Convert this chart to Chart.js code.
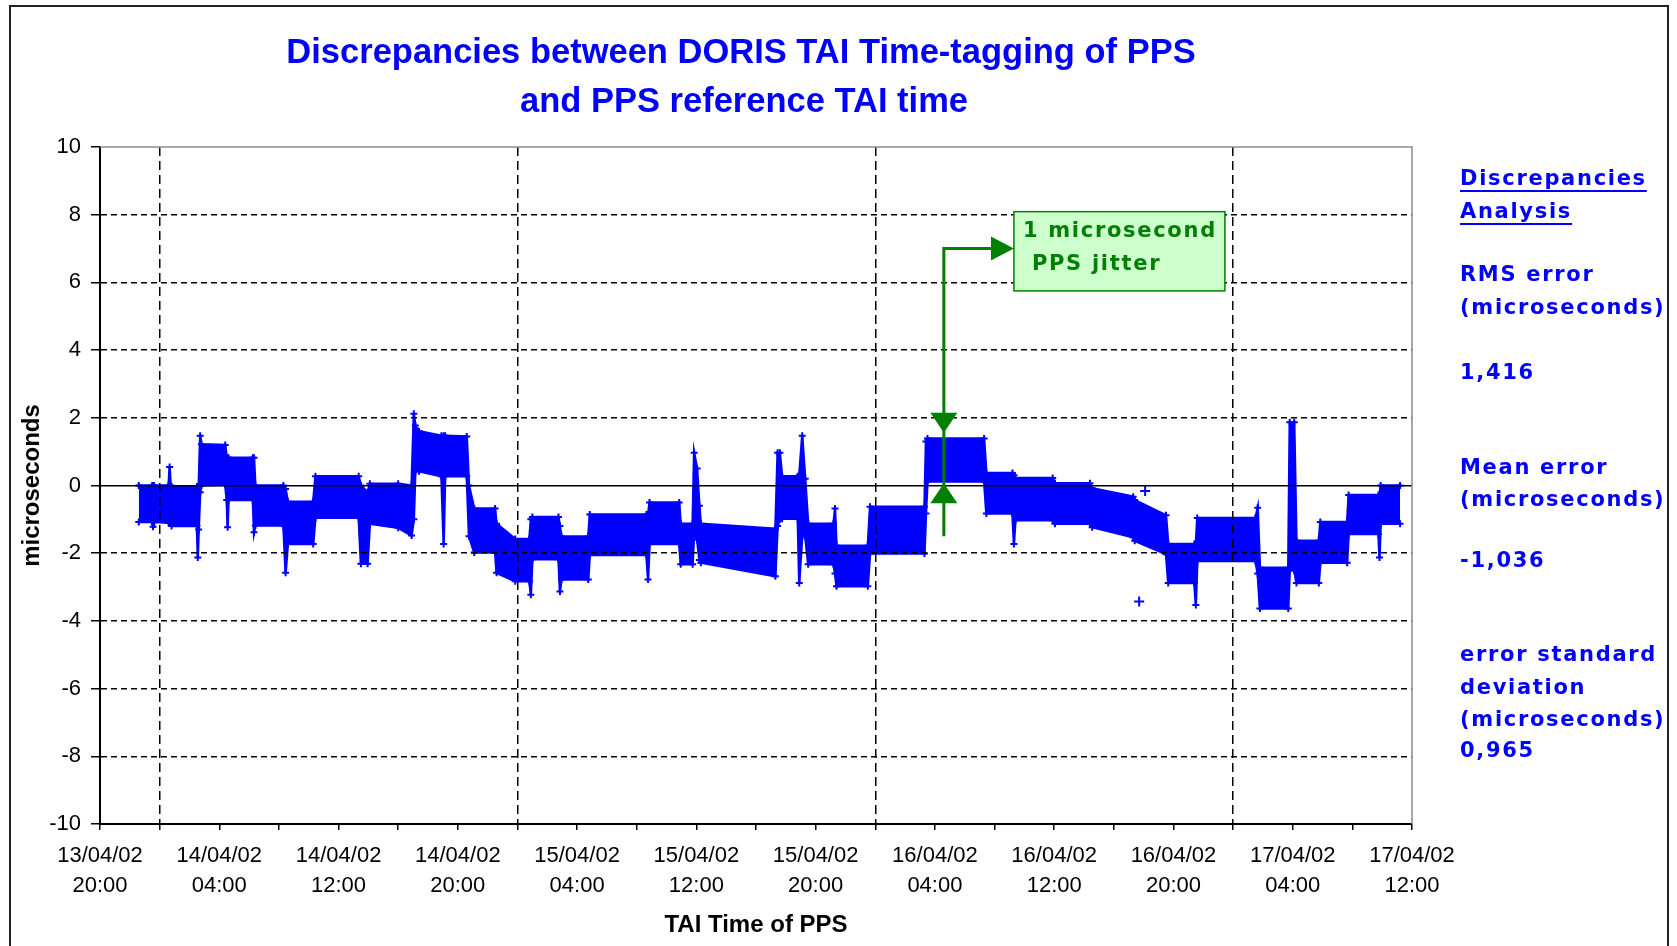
<!DOCTYPE html>
<html>
<head>
<meta charset="utf-8">
<title>DORIS TAI time-tagging of PPS</title>
<script src="https://cdn.jsdelivr.net/npm/chart.js@4.4.1/dist/chart.umd.min.js"></script>
<style>
  html, body { margin: 0; padding: 0; background: #fff; }
  #wrap { position: relative; width: 1677px; height: 946px; }
</style>
</head>
<body>
<div id="wrap"><canvas id="myChart"></canvas></div>
<script>
  // hours after 13/04/02 20:00, with the upper and lower edge of the band of points
  const hours = [2.6, 3.5, 3.56, 3.62, 4.6, 4.67, 4.74, 4.8, 6.5, 6.56, 6.62, 6.72, 6.8, 8.4, 8.5, 8.56, 8.62, 10.25, 10.33, 10.42,
    12.3, 12.45, 12.6, 14.3, 14.45, 17.35, 17.5, 17.95, 18.1, 20.0, 20.9, 21.05, 21.15, 21.4, 22.9, 23.05, 23.15, 24.6, 24.75, 25.1,
    26.5, 26.6, 27.85, 28.8, 28.9, 29.0, 30.75, 30.85, 30.95, 32.75, 32.85, 36.65, 36.76, 36.86, 38.85, 38.95, 39.75, 39.85, 40.05, 40.2,
    40.3, 45.3, 45.45, 45.6, 45.75, 46.8, 46.9, 47.1, 47.3, 47.5, 49.2, 49.3, 49.4, 51.5, 51.65, 55.3, 55.4, 55.5, 59.3, 59.45,
    61.2, 61.3, 61.4, 63.9, 64.05, 66.4, 66.55, 69.3, 69.4, 71.5, 71.65, 73.4, 73.5, 73.6, 77.5, 77.65, 77.8, 79.7, 79.8, 80.1,
    80.25, 81.75, 81.85, 83.65, 83.75, 85.75, 85.82, 85.9, 87.2];
  const upper = [0.0, 0.0, 0.0, 0.0, 0.0, 0.55, 0.0, -0.03, -0.03, -0.03, -0.03, 1.47, 1.22, 1.2, 0.82, 0.82, 0.82, 0.82, 0.82, 0.0,
    0.0, -0.1, -0.48, -0.48, 0.27, 0.27, 0.0, -0.2, 0.05, 0.05, 0.0, 2.12, 1.77, 1.6, 1.47, 1.47, 1.47, 1.45, 0.0, -0.68,
    -0.68, -1.13, -1.58, -1.58, -1.0, -0.93, -0.93, -1.2, -1.51, -1.51, -0.86, -0.86, -0.86, -0.5, -0.5, -1.13, -1.13, 0.97, 0.5, -0.6,
    -1.13, -1.28, 0.97, 0.97, 0.27, 0.27, 0.3, 1.47, 0.2, -1.13, -1.13, -0.68, -1.78, -1.78, -0.63, -0.63, 1.3, 1.39, 1.39, 0.37,
    0.37, 0.3, 0.22, 0.22, 0.07, 0.07, -0.08, -0.33, -0.43, -0.88, -1.73, -1.73, -1.73, -0.96, -0.96, -0.66, -2.43, -2.43, 1.87, 1.87,
    -1.63, -1.63, -1.08, -1.08, -0.28, -0.28, -0.28, 0.0, 0.0];
  const lower = [-1.08, -1.08, -1.22, -1.08, -1.1, -1.1, -1.1, -1.2, -1.2, -2.13, -1.3, -0.2, 0.0, 0.02, -0.43, -1.23, -0.43, -0.43, -1.38, -1.18,
    -1.18, -2.58, -1.73, -1.73, -0.95, -0.95, -2.31, -2.31, -1.13, -1.25, -1.48, -1.0, 0.42, 0.42, 0.27, -1.73, 0.27, 0.27, -1.5, -1.98,
    -1.98, -2.58, -2.83, -2.83, -3.23, -2.18, -2.18, -3.13, -2.78, -2.78, -2.05, -2.05, -2.78, -1.73, -1.73, -2.33, -2.33, -1.4, -1.6, -2.2,
    -2.28, -2.68, -1.2, -1.0, -0.98, -0.98, -2.88, -1.5, -1.5, -2.33, -2.33, -2.6, -2.98, -2.98, -2.01, -2.01, -0.83, 0.12, 0.12, -0.83,
    -0.83, -1.73, -1.03, -1.03, -1.13, -1.13, -1.23, -1.53, -1.63, -2.03, -2.88, -2.88, -3.53, -2.23, -2.23, -2.6, -3.63, -3.63, -2.5, -2.5,
    -2.88, -2.88, -2.28, -2.28, -1.43, -1.43, -2.13, -1.13, -1.13];

  const strayHours = [69.7, 70.1];
  const strayValues = [-3.43, -0.16];

  const xTickDates = ['13/04/02', '14/04/02', '14/04/02', '14/04/02', '15/04/02', '15/04/02', '15/04/02', '16/04/02', '16/04/02', '16/04/02', '17/04/02', '17/04/02'];
  const xTickTimes = ['20:00', '04:00', '12:00', '20:00', '04:00', '12:00', '20:00', '04:00', '12:00', '20:00', '04:00', '12:00'];
  const midnights = [4, 28, 52, 76];

  const titleLines = ['Discrepancies between DORIS TAI Time-tagging of PPS', 'and PPS reference TAI time'];
  const panel = [
    { t: 'Discrepancies', y: 185, u: true },
    { t: 'Analysis', y: 218, u: true },
    { t: 'RMS error', y: 281 },
    { t: '(microseconds)', y: 314 },
    { t: '1,416', y: 379 },
    { t: 'Mean error', y: 474 },
    { t: '(microseconds)', y: 506 },
    { t: '-1,036', y: 567 },
    { t: 'error standard', y: 661 },
    { t: 'deviation', y: 694 },
    { t: '(microseconds)', y: 726 },
    { t: '0,965', y: 757 }
  ];

  const BLUE = '#0000ff';
  const GREEN = '#008000';

  function toPts(xs, ys) {
    return xs.map((x, i) => ({ x: x, y: ys[i] }));
  }

  function tri(c, pts) {
    c.beginPath();
    c.moveTo(pts[0][0], pts[0][1]);
    c.lineTo(pts[1][0], pts[1][1]);
    c.lineTo(pts[2][0], pts[2][1]);
    c.closePath();
    c.fill();
  }

  const decor = {
    id: 'decor',
    beforeDraw(chart) {
      const c = chart.ctx;
      c.save();
      c.fillStyle = '#fff';
      c.fillRect(0, 0, chart.width, chart.height);
      c.restore();
    },
    afterDraw(chart) {
      const c = chart.ctx;
      const xs = chart.scales.x, ys = chart.scales.y;
      const a = chart.chartArea;
      c.save();

      // outer frame
      c.strokeStyle = '#222';
      c.lineWidth = 2;
      c.strokeRect(10, 6, 1658, 1000);

      // plot frame, top and right
      c.strokeStyle = '#8c8c8c';
      c.lineWidth = 1.5;
      c.beginPath();
      c.moveTo(a.left, a.top);
      c.lineTo(a.right, a.top);
      c.lineTo(a.right, a.bottom);
      c.stroke();

      // title
      c.fillStyle = BLUE;
      c.font = 'bold 34.5px "Liberation Sans", Arial, sans-serif';
      c.textAlign = 'center';
      c.textBaseline = 'alphabetic';
      c.fillText(titleLines[0], 741, 63);
      c.fillText(titleLines[1], 744, 112);

      // stats panel
      c.font = 'bold 21px "DejaVu Sans", Verdana, sans-serif';
      c.textAlign = 'left';
      c.letterSpacing = '1.7px';
      panel.forEach(p => {
        c.fillText(p.t, 1460, p.y);
        if (p.u) {
          const w = c.measureText(p.t).width;
          c.fillRect(1460, p.y + 5, w, 2);
        }
      });

      // jitter annotation
      const px = xs.getPixelForValue(56.6);
      const elbow = ys.getPixelForValue(7);
      const bx0 = xs.getPixelForValue(61.3), bx1 = xs.getPixelForValue(75.45);
      const by0 = ys.getPixelForValue(8.09), by1 = ys.getPixelForValue(5.75);
      c.strokeStyle = GREEN;
      c.fillStyle = GREEN;
      c.lineWidth = 3;
      c.beginPath();
      c.moveTo(px, ys.getPixelForValue(-1.5));
      c.lineTo(px, elbow);
      c.lineTo(bx0 - 20, elbow);
      c.stroke();
      tri(c, [[bx0, elbow], [bx0 - 23, elbow - 12], [bx0 - 23, elbow + 12]]);
      const dTip = ys.getPixelForValue(1.56);
      tri(c, [[px, dTip], [px - 13.5, dTip - 20], [px + 13.5, dTip - 20]]);
      const uTip = ys.getPixelForValue(0.07);
      tri(c, [[px, uTip], [px - 13.5, uTip + 20], [px + 13.5, uTip + 20]]);

      c.fillStyle = '#ccffcc';
      c.fillRect(bx0, by0, bx1 - bx0, by1 - by0);
      c.lineWidth = 1.5;
      c.strokeRect(bx0, by0, bx1 - bx0, by1 - by0);
      c.fillStyle = GREEN;
      c.font = 'bold 21px "DejaVu Sans", Verdana, sans-serif';
      c.letterSpacing = '1.7px';
      c.fillText('1 microsecond', bx0 + 9, by0 + 25);
      c.fillText('PPS jitter', bx0 + 18, by0 + 58);

      c.restore();
    }
  };

  const tickFont = { family: '"Liberation Sans", Arial, sans-serif', size: 22, lineHeight: 30 / 22 };
  const axisTitleFont = { family: '"Liberation Sans", Arial, sans-serif', size: 24, weight: 'bold' };

  new Chart(document.getElementById('myChart'), {
    type: 'line',
    data: {
      datasets: [
        {
          label: 'upper',
          data: toPts(hours, upper),
          borderColor: BLUE,
          borderWidth: 2.5,
          pointStyle: 'cross',
          pointRadius: 3.5,
          pointBorderWidth: 2,
          pointBorderColor: BLUE,
          tension: 0,
          fill: false
        },
        {
          label: 'lower',
          data: toPts(hours, lower),
          borderColor: BLUE,
          backgroundColor: BLUE,
          borderWidth: 2.5,
          pointStyle: 'cross',
          pointRadius: 3.5,
          pointBorderWidth: 2,
          pointBorderColor: BLUE,
          tension: 0,
          fill: '-1'
        },
        {
          label: 'stray',
          data: toPts(strayHours, strayValues),
          showLine: false,
          pointStyle: 'cross',
          pointRadius: 5,
          pointBorderWidth: 2,
          pointBorderColor: BLUE
        }
      ]
    },
    options: {
      responsive: true,
      maintainAspectRatio: false,
      animation: false,
      events: [],
      layout: { padding: { left: 0, top: 147, right: 265, bottom: 0 } },
      plugins: {
        legend: { display: false },
        tooltip: { enabled: false },
        title: { display: false }
      },
      scales: {
        x: {
          type: 'linear',
          min: 0,
          max: 88,
          afterFit(s) { s.height = 122; },
          afterBuildTicks(s) {
            s.ticks = [];
            for (let v = 0; v <= 88; v += 4) s.ticks.push({ value: v });
          },
          ticks: {
            stepSize: 4,
            autoSkip: false,
            maxRotation: 0,
            minRotation: 0,
            padding: 11,
            color: '#000',
            font: tickFont,
            callback: (v) => (v % 8 === 0 ? [xTickDates[v / 8], xTickTimes[v / 8]] : '')
          },
          grid: {
            z: 1,
            color: (ctx) => {
              const v = ctx.tick ? ctx.tick.value : -1;
              if (midnights.includes(v)) return '#000';
              return 'rgba(0,0,0,0)';
            },
            lineWidth: 1.5,
            tickColor: '#000',
            tickWidth: 1.5,
            tickLength: 6,
            tickBorderDash: []
          },
          border: { display: true, color: '#000', width: 2, z: 2, dash: [9, 5] },
          title: { display: true, text: 'TAI Time of PPS', color: '#000', font: axisTitleFont, padding: { top: 0, bottom: 6 } }
        },
        y: {
          min: -10,
          max: 10,
          afterFit(s) { s.width = 100; },
          ticks: { stepSize: 2, padding: 10, color: '#000', font: tickFont },
          grid: {
            z: 1,
            color: (ctx) => {
              const v = ctx.tick ? ctx.tick.value : 0;
              if (v === -10 || v === 10) return 'rgba(0,0,0,0)';
              return '#000';
            },
            lineWidth: 1.5,
            tickColor: '#000',
            tickWidth: 1.5,
            tickLength: 9,
            tickBorderDash: []
          },
          border: {
            display: true, color: '#000', width: 2, z: 2,
            dash: (ctx) => (ctx.tick && ctx.tick.value === 0 ? [] : [6, 4])
          },
          title: { display: true, text: 'microseconds', color: '#000', font: axisTitleFont, padding: { top: 18, bottom: 0 } }
        }
      }
    },
    plugins: [decor]
  });
</script>
</body>
</html>
